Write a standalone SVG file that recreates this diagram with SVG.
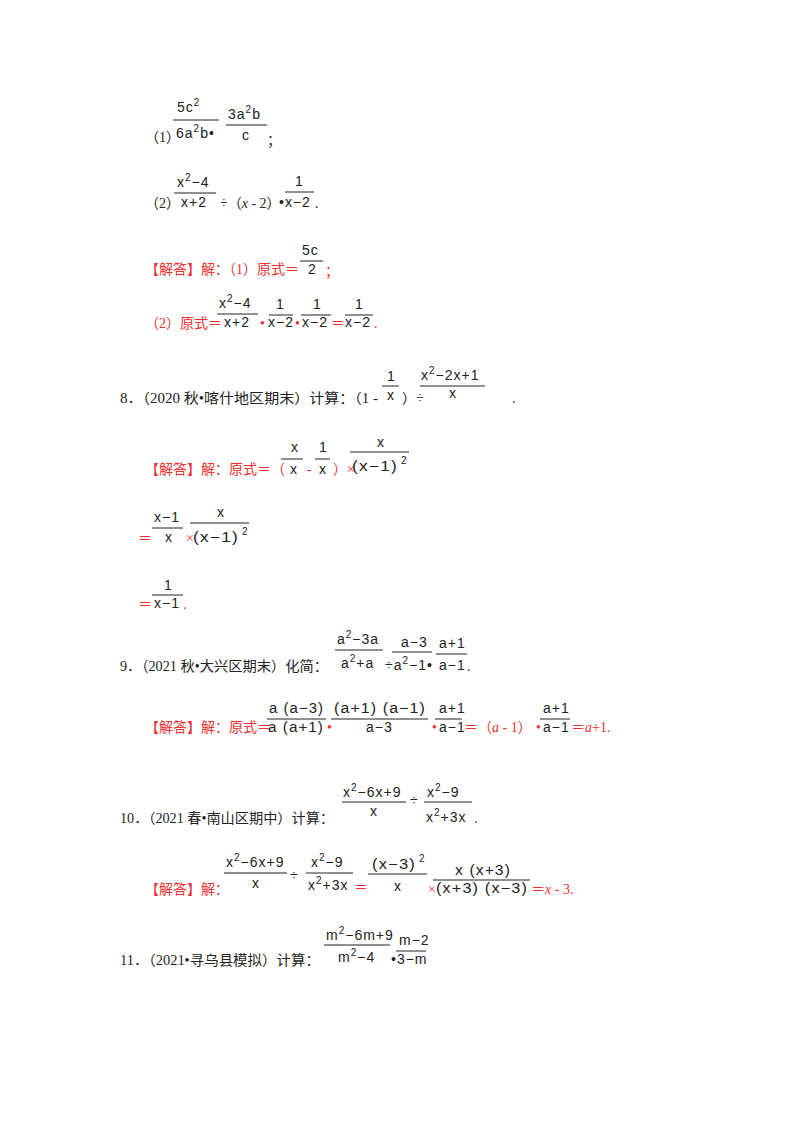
<svg xmlns="http://www.w3.org/2000/svg" width="800" height="1132" viewBox="0 0 800 1132">
<style>
text{font-family:"Liberation Serif","Noto Sans CJK SC",serif;font-size:14px;fill:#222}
.m{font-family:"Liberation Sans","DejaVu Sans",sans-serif;font-size:14px;letter-spacing:1px;fill:#222}
.s{font-size:10px}
.r{fill:#f03030}
.i{font-style:italic}
line{stroke:#222;stroke-width:1}
</style>
<rect width="800" height="1132" fill="#fff"/>
<g id="p1">
<text x="145" y="142">（1）</text>
<text class="m" x="177" y="112">5c<tspan class="s" dy="-6">2</tspan></text>
<line x1="173" y1="120" x2="219" y2="120"/>
<text class="m" x="176" y="138">6a<tspan class="s" dy="-6">2</tspan><tspan dy="6">b•</tspan></text>
<text class="m" x="228" y="119">3a<tspan class="s" dy="-6">2</tspan><tspan dy="6">b</tspan></text>
<line x1="226" y1="125" x2="267" y2="125"/>
<text class="m" x="242" y="140">c</text>
<text x="267" y="145">；</text>
</g>
<g id="p2">
<text x="145" y="208">（2）</text>
<text class="m" x="177" y="187">x<tspan class="s" dy="-6">2</tspan><tspan dy="6">−4</tspan></text>
<line x1="174" y1="193" x2="216" y2="193"/>
<text class="m" x="181" y="207">x+2</text>
<text x="220" y="208">÷（<tspan class="i">x</tspan> - 2）</text>
<text class="m" x="295" y="186">1</text>
<line x1="285" y1="192" x2="314" y2="192"/>
<text class="m" x="279" y="207">•x−2</text>
<text x="315" y="208">.</text>
</g>
<g id="a1">
<text class="r" x="145" y="274">【解答】解：（1）原式＝</text>
<text class="m" x="302" y="255">5c</text>
<line x1="300" y1="261" x2="323" y2="261"/>
<text class="m" x="308" y="274">2</text>
<text class="r" x="325" y="276">；</text>
<text class="r" x="145" y="328">（2）原式＝</text>
<text class="m" x="219" y="308">x<tspan class="s" dy="-6">2</tspan><tspan dy="6">−4</tspan></text>
<line x1="217" y1="314" x2="258" y2="314"/>
<text class="m" x="224" y="327">x+2</text>
<text class="r" x="260" y="328">•</text>
<text class="m" x="276" y="309">1</text>
<line x1="269" y1="315" x2="293" y2="315"/>
<text class="m" x="268" y="327">x−2</text>
<text class="r" x="295" y="328">•</text>
<text class="m" x="313" y="309">1</text>
<line x1="301" y1="315" x2="331" y2="315"/>
<text class="m" x="302" y="327">x−2</text>
<text class="r" x="331" y="328">＝</text>
<text class="m" x="355" y="309">1</text>
<line x1="345" y1="315" x2="373" y2="315"/>
<text class="m" x="345" y="327">x−2</text>
<text class="r" x="374" y="328">.</text>
</g>
<g id="q8">
<text x="120" y="403" textLength="258" lengthAdjust="spacingAndGlyphs">8．（2020 秋•喀什地区期末）计算：（1 -</text>
<text class="m" x="387" y="381">1</text>
<line x1="382" y1="386" x2="399" y2="386"/>
<text class="m" x="387" y="400">x</text>
<text x="402" y="403">）÷</text>
<text class="m" x="421" y="380">x<tspan class="s" dy="-6">2</tspan><tspan dy="6">−2x+1</tspan></text>
<line x1="420" y1="386" x2="485" y2="386"/>
<text class="m" x="449" y="398">x</text>
<text x="512" y="403">.</text>
</g>
<g id="a8">
<text class="r" x="145" y="474">【解答】解：原式＝（</text>
<text class="m" x="291" y="452">x</text>
<line x1="281" y1="459" x2="303" y2="459"/>
<text class="m" x="290" y="474">x</text>
<text class="r" x="307" y="474">-</text>
<text class="m" x="319" y="452">1</text>
<line x1="315" y1="459" x2="330" y2="459"/>
<text class="m" x="319" y="474">x</text>
<text class="r" x="333" y="474">）×</text>
<text class="m" x="377" y="447">x</text>
<line x1="350" y1="452" x2="409" y2="452"/>
<text class="m" x="352" y="471" textLength="46" lengthAdjust="spacingAndGlyphs">(x−1)</text>
<text class="m s" x="401" y="464">2</text>
<text class="r" x="138" y="543">＝</text>
<text class="m" x="154" y="522">x−1</text>
<line x1="152" y1="528" x2="183" y2="528"/>
<text class="m" x="165" y="542">x</text>
<text class="r" x="186" y="543">×</text>
<text class="m" x="217" y="517">x</text>
<line x1="190" y1="523" x2="249" y2="523"/>
<text class="m" x="193" y="542" textLength="46" lengthAdjust="spacingAndGlyphs">(x−1)</text>
<text class="m s" x="242" y="535">2</text>
<text class="r" x="138" y="609">＝</text>
<text class="m" x="164" y="590">1</text>
<line x1="152" y1="595" x2="183" y2="595"/>
<text class="m" x="154" y="608">x−1</text>
<text class="r" x="183" y="609">.</text>
</g>
<g id="q9">
<text x="120" y="671" textLength="208" lengthAdjust="spacingAndGlyphs">9．（2021 秋•大兴区期末）化简：</text>
<text class="m" x="337" y="644">a<tspan class="s" dy="-6">2</tspan><tspan dy="6">−3a</tspan></text>
<line x1="335" y1="650" x2="383" y2="650"/>
<text class="m" x="341" y="668">a<tspan class="s" dy="-6">2</tspan><tspan dy="6">+a</tspan></text>
<text class="m" x="385" y="670">÷a<tspan class="s" dy="-6">2</tspan><tspan dy="6">−1•</tspan></text>
<text class="m" x="401" y="647">a−3</text>
<line x1="392" y1="652" x2="432" y2="652"/>
<text class="m" x="439" y="648">a+1</text>
<line x1="436" y1="654" x2="467" y2="654"/>
<text class="m" x="439" y="670">a−1</text>
<text x="467" y="671">.</text>
</g>
<g id="a9">
<text class="r" x="145" y="732">【解答】解：原式＝</text>
<text class="m" x="269" y="713" textLength="55" lengthAdjust="spacingAndGlyphs">a (a−3)</text>
<line x1="267" y1="719" x2="326" y2="719"/>
<text class="m" x="268" y="732" textLength="56" lengthAdjust="spacingAndGlyphs">a (a+1)</text>
<text class="r" x="327" y="732">•</text>
<text class="m" x="334" y="713" textLength="92" lengthAdjust="spacingAndGlyphs">(a+1) (a−1)</text>
<line x1="331" y1="719" x2="428" y2="719"/>
<text class="m" x="366" y="732">a−3</text>
<text class="r" x="432" y="732">•</text>
<text class="m" x="439" y="713">a+1</text>
<line x1="435" y1="719" x2="462" y2="719"/>
<text class="m" x="439" y="732">a−1</text>
<text class="r" x="464" y="732">＝（<tspan class="i">a</tspan> - 1）</text>
<text class="r" x="536" y="732">•</text>
<text class="m" x="543" y="713">a+1</text>
<line x1="540" y1="719" x2="570" y2="719"/>
<text class="m" x="543" y="732">a−1</text>
<text class="r" x="571" y="732">＝<tspan class="i">a</tspan>+1.</text>
</g>
<g id="q10">
<text x="120" y="823" textLength="214" lengthAdjust="spacingAndGlyphs">10．（2021 春•南山区期中）计算：</text>
<text class="m" x="343" y="797">x<tspan class="s" dy="-6">2</tspan><tspan dy="6">−6x+9</tspan></text>
<line x1="342" y1="802" x2="406" y2="802"/>
<text class="m" x="370" y="816">x</text>
<text class="m" x="410" y="805">÷</text>
<text class="m" x="427" y="797">x<tspan class="s" dy="-6">2</tspan><tspan dy="6">−9</tspan></text>
<line x1="424" y1="802" x2="472" y2="802"/>
<text class="m" x="426" y="822">x<tspan class="s" dy="-6">2</tspan><tspan dy="6">+3x</tspan></text>
<text x="474" y="823">.</text>
</g>
<g id="a10">
<text class="r" x="145" y="894">【解答】解：</text>
<text class="m" x="226" y="867">x<tspan class="s" dy="-6">2</tspan><tspan dy="6">−6x+9</tspan></text>
<line x1="224" y1="873" x2="287" y2="873"/>
<text class="m" x="252" y="888">x</text>
<text class="m" x="290" y="880">÷</text>
<text class="m" x="311" y="867">x<tspan class="s" dy="-6">2</tspan><tspan dy="6">−9</tspan></text>
<line x1="306" y1="873" x2="353" y2="873"/>
<text class="m" x="308" y="890">x<tspan class="s" dy="-6">2</tspan><tspan dy="6">+3x</tspan></text>
<text class="r" x="354" y="892">＝</text>
<text class="m" x="372" y="869" textLength="44" lengthAdjust="spacingAndGlyphs">(x−3)</text>
<text class="m s" x="419" y="862">2</text>
<line x1="368" y1="874" x2="427" y2="874"/>
<text class="m" x="394" y="891">x</text>
<text class="r" x="428" y="894">×</text>
<text class="m" x="455" y="875" textLength="56" lengthAdjust="spacingAndGlyphs">x (x+3)</text>
<line x1="433" y1="880" x2="530" y2="880"/>
<text class="m" x="436" y="893" textLength="92" lengthAdjust="spacingAndGlyphs">(x+3) (x−3)</text>
<text class="r" x="531" y="894">＝<tspan class="i">x</tspan> - 3.</text>
</g>
<g id="q11">
<text x="120" y="965" textLength="200" lengthAdjust="spacingAndGlyphs">11．（2021•寻乌县模拟）计算：</text>
<text class="m" x="326" y="940">m<tspan class="s" dy="-6">2</tspan><tspan dy="6">−6m+9</tspan></text>
<line x1="324" y1="945" x2="390" y2="945"/>
<text class="m" x="338" y="962">m<tspan class="s" dy="-6">2</tspan><tspan dy="6">−4</tspan></text>
<text class="m" x="399" y="945">m−2</text>
<line x1="396" y1="951" x2="426" y2="951"/>
<text class="m" x="391" y="964">•3−m</text>
</g>
</svg>
